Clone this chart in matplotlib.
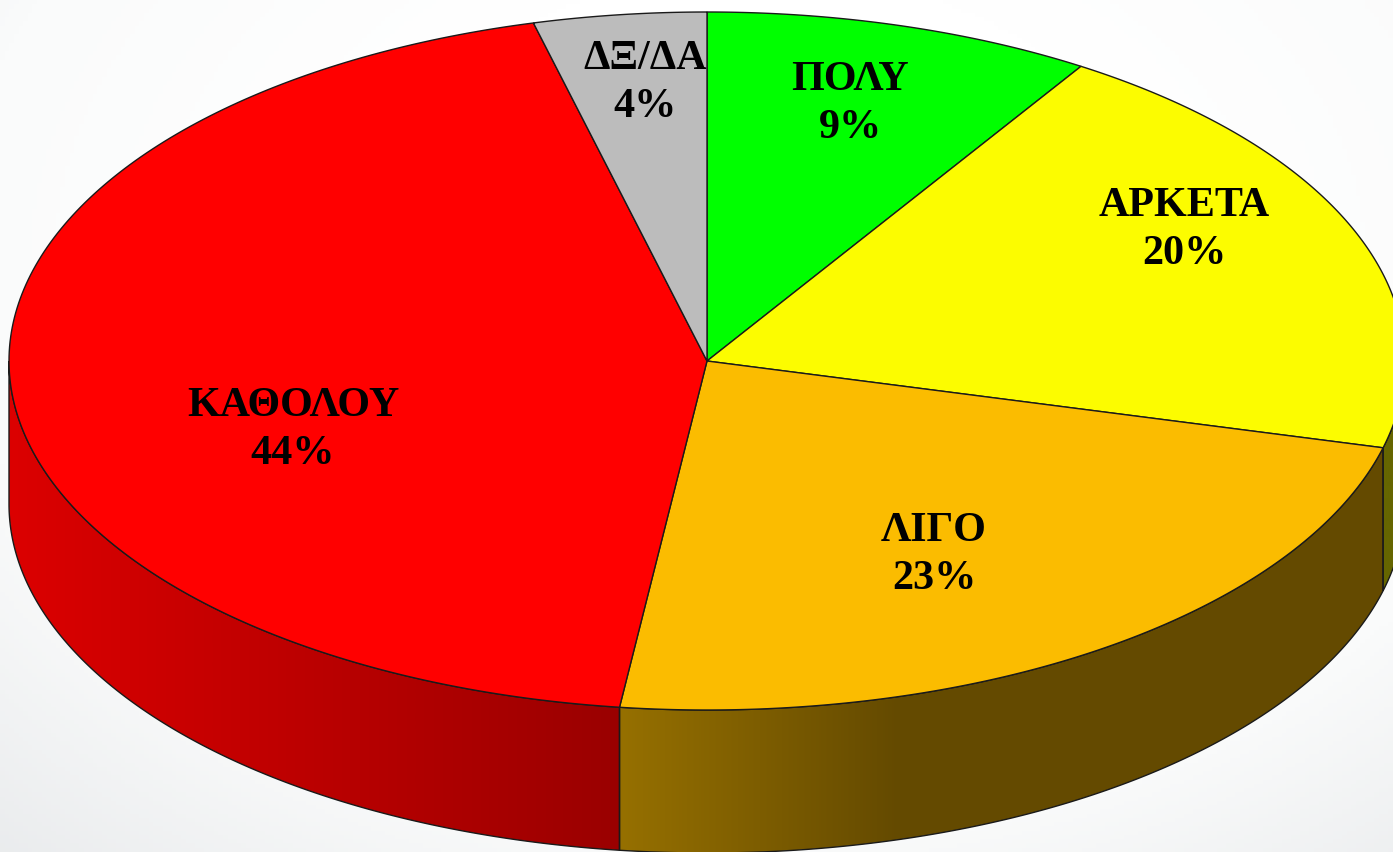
import numpy as np
import matplotlib
matplotlib.use('Agg')
import matplotlib.pyplot as plt
from matplotlib.patches import Polygon
from matplotlib.colors import LinearSegmentedColormap

# dati della torta, in senso orario da ore 12
labels = ['ΠΟΛΥ', 'ΑΡΚΕΤΑ', 'ΛΙΓΟ', 'ΚΑΘΟΛΟΥ', 'ΔΞ/ΔΑ']
values = [9, 20, 23, 44, 4]
top_colors = ['#00ff00', '#fcfc00', '#fbbc00', '#ff0000', '#bcbcbc']

# posizione etichette e geometria, in pixel
label_x = [850, 1184, 934, 293, 645]
label_y = [104, 230, 555, 430, 83]
cx, cy = 707, 361
rx, ry = 698, 349
depth = 143


def ell(a):
    a = np.radians(a)
    return cx + rx * np.sin(a), cy - ry * np.cos(a)


fig = plt.figure(figsize=(13.93, 8.52), dpi=100)
ax = fig.add_axes([0, 0, 1, 1])
ax.set_xlim(0, 1393)
ax.set_ylim(852, 0)
ax.axis('off')

# sfondo bianco con angoli grigi
yy, xx = np.mgrid[0:852:200j, 0:1393:300j]
d = np.sqrt(((xx - 760) / 900) ** 2 + ((yy - 260) / 640) ** 2)
bg_cmap = LinearSegmentedColormap.from_list('bg', ['#ffffff', '#ffffff', '#fafbfb', '#e6e8ea'])
ax.imshow(np.clip(d / 1.35, 0, 1), extent=(0, 1393, 852, 0), cmap=bg_cmap, vmin=0, vmax=1, aspect='auto', zorder=0)

angles = np.cumsum([0] + values) * 3.6

# fianchi: x di inizio/fine sfumatura e colori
side_stops = {
    1: (1383, 1400, '#666600', '#666600'),
    2: (620, 900, '#967000', '#644a00'),
    3: (8, 620, '#dc0000', '#9a0000'),
}
for i, (x0, x1, c0, c1) in side_stops.items():
    a0 = max(angles[i], 90)
    a1 = min(angles[i + 1], 270)
    t = np.linspace(a0, a1, 200)
    ex, ey = ell(t)
    pts = np.r_[np.c_[ex, ey], np.c_[ex[::-1], ey[::-1] + depth]]
    side = Polygon(pts, closed=True, facecolor='none', edgecolor='#1a1a1a', linewidth=1.0, zorder=2)
    ax.add_patch(side)
    cmap = LinearSegmentedColormap.from_list('s', [c0, c1])
    im = ax.imshow(np.linspace(0, 1, 512)[None, :], extent=(x0, x1, 1000, 0), cmap=cmap, aspect='auto', zorder=1)
    im.set_clip_path(side)
    # a destra del gradiente colore costante
    if x1 < ex.max():
        im2 = ax.imshow([[1, 1]], extent=(x1 - 1, 1393, 1000, 0), cmap=cmap, vmin=0, vmax=1, aspect='auto', zorder=1)
        im2.set_clip_path(side)
ax.set_xlim(0, 1393)
ax.set_ylim(852, 0)

# facce superiori
for i in range(len(values)):
    t = np.linspace(angles[i], angles[i + 1], 200)
    ex, ey = ell(t)
    pts = np.r_[[[cx, cy]], np.c_[ex, ey]]
    ax.add_patch(Polygon(pts, closed=True, facecolor=top_colors[i], edgecolor='#1a1a1a', linewidth=1.0, zorder=3))

for i in range(len(values)):
    ax.text(label_x[i], label_y[i], f'{labels[i]}\n{values[i]}%', ha='center', va='center',
            fontfamily='Liberation Serif', fontweight='bold', fontsize=30.3, linespacing=1.33,
            color='black', zorder=4)

fig.savefig('out.png', dpi=100)
